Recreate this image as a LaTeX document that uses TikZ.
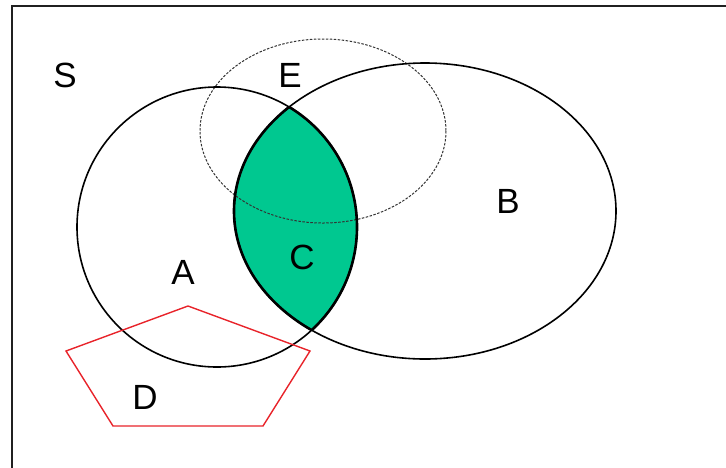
\documentclass[tikz,border=0pt]{standalone}
\usepackage{fontspec}
\setmainfont{Liberation Sans}
\usepackage{tikz}
\definecolor{cLens}{HTML}{00C890}
\definecolor{cPoly}{HTML}{E8232A}
\definecolor{cFrame}{HTML}{202020}
\tikzset{
  setline/.style={draw=black, line width=1.6pt},
  lensline/.style={draw=black, line width=2.6pt},
  dotline/.style={draw=black!80, line width=1pt, dash pattern=on 2.5pt off 1.5pt},
  lbl/.style={font=\fontsize{35}{38}\selectfont, inner sep=0pt},
}
\begin{document}
\begin{tikzpicture}[x=1pt, y=-1pt]
  \useasboundingbox (0,0) rectangle (726,467);
  \clip (0,0) rectangle (726,467);
  % universe frame
  \draw[cFrame, line width=2.2pt] (12,480) -- (12,6) -- (740,6);
  % intersection of A and B
  \begin{scope}
    \clip (217,227) ellipse [x radius=140, y radius=140];
    \fill[cLens] (425,211) ellipse [x radius=191, y radius=148];
  \end{scope}
  % E
  \draw[dotline] (323,131) ellipse [x radius=123, y radius=92];
  % A and B
  \draw[setline] (217,227) ellipse [x radius=140, y radius=140];
  \draw[setline] (425,211) ellipse [x radius=191, y radius=148];
  \begin{scope}
    \clip (217,227) ellipse [x radius=140, y radius=140];
    \draw[lensline] (425,211) ellipse [x radius=191, y radius=148];
  \end{scope}
  \begin{scope}
    \clip (425,211) ellipse [x radius=191, y radius=148];
    \draw[lensline] (217,227) ellipse [x radius=140, y radius=140];
  \end{scope}
  % D
  \draw[cPoly, line width=1.4pt, line join=miter]
    (188,306) -- (310,351) -- (263,426) -- (113,426) -- (66,351) -- cycle;
  % labels
  \node[lbl] (labS) at (65,75) {S};
  \node[lbl] (labE) at (290,75) {E};
  \node[lbl] (labB) at (508,201) {B};
  \node[lbl] (labA) at (183,272) {A};
  \node[lbl] (labC) at (302,257) {C};
  \node[lbl] (labD) at (145,397) {D};
\end{tikzpicture}
\end{document}
